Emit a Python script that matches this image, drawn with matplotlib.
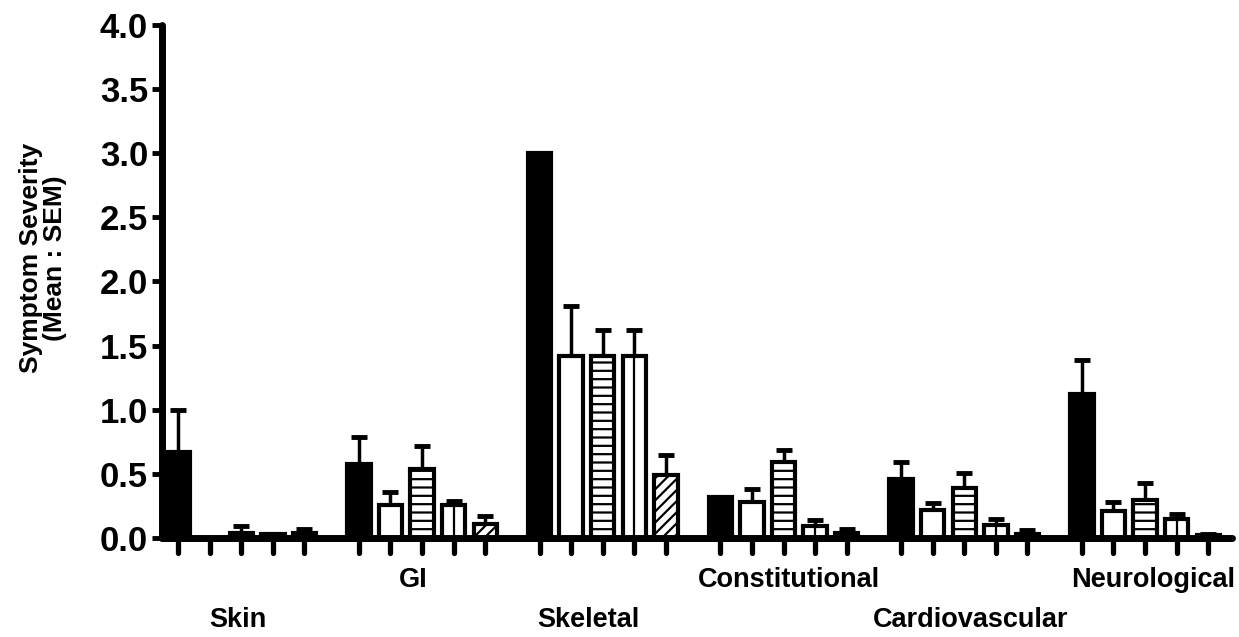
import matplotlib
matplotlib.use("Agg")
import matplotlib.pyplot as plt
from matplotlib.markers import MarkerStyle, TICKDOWN
import numpy as np

# symptom categories and their 5 groups (mean and upper SEM)
categories = ["Skin", "GI", "Skeletal", "Constitutional", "Cardiovascular", "Neurological"]

mean_black = [0.67, 0.58, 3.00, 0.32, 0.46, 1.12]
mean_white = [0.00, 0.26, 1.42, 0.28, 0.22, 0.21]
mean_hstripe = [0.04, 0.54, 1.42, 0.59, 0.39, 0.30]
mean_vstripe = [0.03, 0.26, 1.42, 0.09, 0.10, 0.15]
mean_diag = [0.04, 0.11, 0.49, 0.04, 0.03, 0.02]

sem_black = [0.33, 0.21, 0.00, 0.00, 0.13, 0.27]
sem_white = [0.00, 0.10, 0.39, 0.10, 0.05, 0.07]
sem_hstripe = [0.05, 0.18, 0.20, 0.10, 0.12, 0.13]
sem_vstripe = [0.00, 0.03, 0.20, 0.05, 0.05, 0.04]
sem_diag = [0.03, 0.06, 0.16, 0.03, 0.03, 0.01]

y_ticks = [0.0, 0.5, 1.0, 1.5, 2.0, 2.5, 3.0, 3.5, 4.0]

plt.rcParams["font.family"] = ["Liberation Sans", "DejaVu Sans"]
plt.rcParams["font.weight"] = "bold"
plt.rcParams["hatch.linewidth"] = 1.6

fig = plt.figure(figsize=(12.39, 6.37), dpi=100)
ax = fig.add_axes([0.1307, 0.1554, 0.8636, 0.8054])

group_step = 5.72
width = 0.74
series = [
    (mean_black, sem_black, dict(color="black", edgecolor="black")),
    (mean_white, sem_white, dict(color="white", edgecolor="black")),
    (mean_hstripe, sem_hstripe, dict(color="white", edgecolor="black", hatch="--")),
    (mean_vstripe, sem_vstripe, dict(color="white", edgecolor="black")),
    (mean_diag, sem_diag, dict(color="white", edgecolor="black", hatch="///")),
]

base = np.arange(len(categories)) * group_step
all_x = []
for k, (vals, errs, style) in enumerate(series):
    x = base + k
    all_x.extend(x.tolist())
    vals = np.array(vals)
    errs = np.array(errs)
    eb = ax.errorbar(x, vals, yerr=[np.zeros_like(errs), errs], fmt="none",
                     ecolor="black", elinewidth=2.5, capsize=5.5, capthick=3.5, zorder=1)
    for cap in eb[1]:
        cap.set_solid_capstyle("round")
    ax.bar(x, vals, width=width, linewidth=3, zorder=2, **style)
    if k == 3:
        # single vertical divider inside these bars
        ax.vlines(x, 0, vals, color="black", linewidth=1.6, zorder=3)

ax.set_xlim(-0.51, 33.35)
ax.set_ylim(0, 4.0)
ax.set_yticks(y_ticks)
ax.set_yticklabels([f"{t:.1f}" for t in y_ticks])
ax.set_xticks(all_x)
ax.set_xticklabels([])

for side in ["top", "right"]:
    ax.spines[side].set_visible(False)
for side in ["left", "bottom"]:
    ax.spines[side].set_linewidth(5)
    ax.spines[side].set_capstyle("round")

ax.tick_params(axis="y", direction="out", length=7, width=3.5, labelsize=25, pad=3)
ax.tick_params(axis="x", direction="out", length=11, width=3.8)
for line in ax.xaxis.get_ticklines():
    if line.get_marker() == TICKDOWN:
        line.set_marker(MarkerStyle(TICKDOWN, capstyle="round"))
for lbl in ax.get_yticklabels():
    lbl.set_fontweight("bold")

# alternating category labels below the axis (small nudges as in the original layout)
label_nudge = [-0.1, -0.28, -0.44, 0.16, 0.19, 0.25]
for i, name in enumerate(categories):
    ypos = -0.082 if i % 2 == 1 else -0.16
    ax.text(base[i] + 2 + label_nudge[i], ypos, name, transform=ax.get_xaxis_transform(),
            ha="center", va="center", fontsize=19.5, fontweight="bold")

fig.text(43 / 1239, 1 - 258 / 637, "Symptom Severity\n(Mean : SEM)",
         rotation=90, ha="center", va="center", fontsize=19,
         fontweight="bold", multialignment="center", linespacing=1.0)

fig.savefig("out.png", dpi=100)
